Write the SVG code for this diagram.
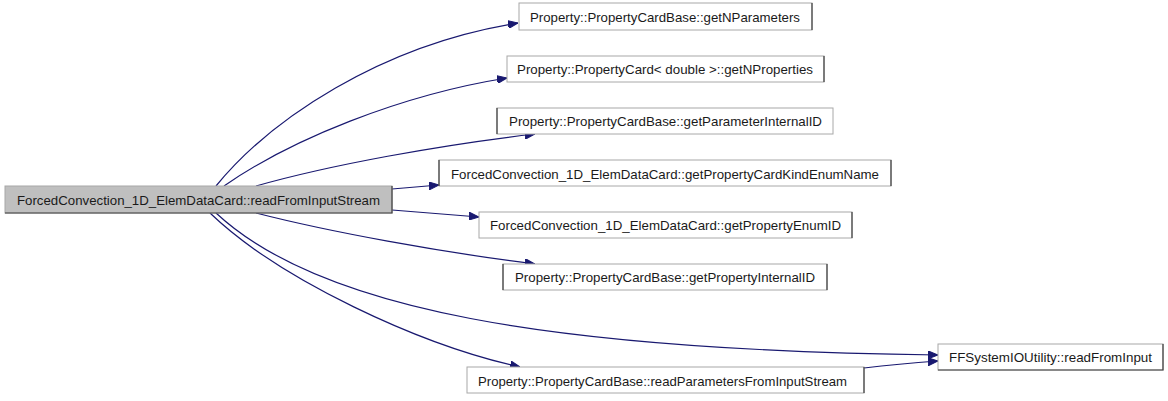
<svg xmlns="http://www.w3.org/2000/svg" width="1168" height="401" viewBox="0 0 1168 401">
  <style>
    .box { fill: #ffffff; stroke: #a8a8a8; stroke-width: 1; }
    .main { fill: #bfbfbf; stroke: #a8a8a8; stroke-width: 1; }
    .edge-shade { fill: none; stroke: #404040; stroke-width: 1.2; }
    .label { font-family: "Liberation Sans", Arial, sans-serif; font-size: 13.5px; fill: #1a1a1a; text-anchor: middle; }
    .conn { fill: none; stroke: #191970; stroke-width: 1.2; marker-end: url(#arrow); }
  </style>
  <defs>
    <marker id="arrow" viewBox="0 0 10 8" refX="10" refY="4" markerWidth="10" markerHeight="8" markerUnits="userSpaceOnUse" orient="auto">
      <path d="M0,0 L10,4 L0,8 Z" fill="#191970" stroke="#191970"/>
    </marker>
  </defs>
  <rect width="1168" height="401" fill="#ffffff"/>

  <!-- connectors -->
  <g id="connectors">
    <path class="conn" d="M216,186 C270,120 380,45 518,23"/>
    <path class="conn" d="M224,186 C290,140 400,95 507,78"/>
    <path class="conn" d="M256,186 C330,165 440,145 535,134"/>
    <path class="conn" d="M392,189 L439,185"/>
    <path class="conn" d="M392,210 L479,217"/>
    <path class="conn" d="M256,213 C330,232 440,252 535,264"/>
    <path class="conn" d="M216,213 C320,310 550,350 938,355"/>
    <path class="conn" d="M210,213 C280,280 420,345 520,367"/>
    <path class="conn" d="M864,368 C890,365 912,363 938,361"/>
  </g>

  <!-- caller -->
  <g id="readFromInputStream">
    <rect class="main" x="5" y="186" width="387" height="27"/>
    <path class="edge-shade" d="M392,186 L392,213 L5,213"/>
    <text class="label" x="198.5" y="205" textLength="363" lengthAdjust="spacingAndGlyphs">ForcedConvection_1D_ElemDataCard::readFromInputStream</text>
  </g>

  <!-- callees -->
  <g id="getNParameters">
    <rect class="box" x="519" y="3" width="293" height="27"/>
    <path class="edge-shade" d="M812,3 L812,30"/>
    <text class="label" x="665" y="22" textLength="270" lengthAdjust="spacingAndGlyphs">Property::PropertyCardBase::getNParameters</text>
  </g>

  <g id="getNProperties">
    <rect class="box" x="507" y="56" width="317" height="26"/>
    <path class="edge-shade" d="M824,56 L824,82"/>
    <text class="label" x="665" y="74" textLength="296" lengthAdjust="spacingAndGlyphs">Property::PropertyCard&lt; double &gt;::getNProperties</text>
  </g>

  <g id="getParameterInternalID">
    <rect class="box" x="497" y="108" width="336" height="26"/>
    <path class="edge-shade" d="M497,108 L497,134"/>
    <text class="label" x="665.5" y="126" textLength="313" lengthAdjust="spacingAndGlyphs">Property::PropertyCardBase::getParameterInternalID</text>
  </g>

  <g id="getPropertyCardKindEnumName">
    <rect class="box" x="439" y="160" width="452" height="26"/>
    <path class="edge-shade" d="M439,160 L439,186 M891,160 L891,186"/>
    <text class="label" x="665" y="179" textLength="428" lengthAdjust="spacingAndGlyphs">ForcedConvection_1D_ElemDataCard::getPropertyCardKindEnumName</text>
  </g>

  <g id="getPropertyEnumID">
    <rect class="box" x="479" y="212" width="373" height="26"/>
    <path class="edge-shade" d="M852,212 L852,238"/>
    <text class="label" x="665.5" y="230" textLength="351" lengthAdjust="spacingAndGlyphs">ForcedConvection_1D_ElemDataCard::getPropertyEnumID</text>
  </g>

  <g id="getPropertyInternalID">
    <rect class="box" x="503" y="264" width="324" height="26"/>
    <path class="edge-shade" d="M503,264 L503,290 M827,264 L827,290"/>
    <text class="label" x="665" y="282" textLength="300" lengthAdjust="spacingAndGlyphs">Property::PropertyCardBase::getPropertyInternalID</text>
  </g>

  <g id="readParametersFromInputStream">
    <rect class="box" x="467" y="367" width="397" height="26"/>
    <path class="edge-shade" d="M864,367 L864,393"/>
    <text class="label" x="662.5" y="386" textLength="369" lengthAdjust="spacingAndGlyphs">Property::PropertyCardBase::readParametersFromInputStream</text>
  </g>

  <g id="readFromInput">
    <rect class="box" x="938" y="344" width="225" height="26"/>
    <path class="edge-shade" d="M1163,344 L1163,370 L938,370"/>
    <text class="label" x="1050.5" y="362" textLength="203" lengthAdjust="spacingAndGlyphs">FFSystemIOUtility::readFromInput</text>
  </g>
</svg>
